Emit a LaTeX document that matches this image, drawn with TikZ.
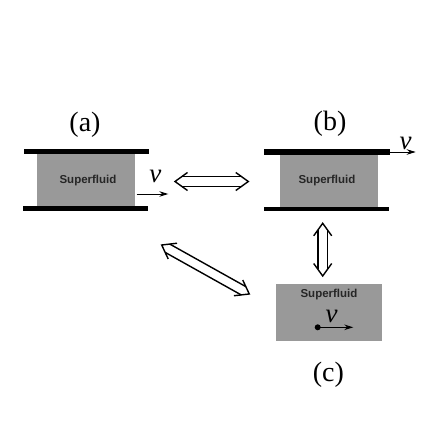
\documentclass[tikz,border=0pt]{standalone}
\usepackage{fontspec}
\setmainfont{Liberation Serif}
\newfontfamily\hv{Liberation Sans}
\usetikzlibrary{arrows.meta,calc}
\definecolor{fluidgray}{RGB}{153,153,153}
\newcommand\eqarr[2]{%
  \path let \p1=($(#2)-(#1)$) in \pgfextra{%
    \pgfmathsetmacro\eqlen{veclen(\x1,\y1)}%
    \pgfmathsetmacro\eqang{atan2(\y1,\x1)}%
    \xdef\eqlen{\eqlen}\xdef\eqang{\eqang}};
  \begin{scope}[shift={(#1)},rotate=\eqang]
    \draw[eqline] (12.5,9) -- (0,0) -- (12.5,-9);
    \draw[eqline] (\eqlen-12.5,9) -- (\eqlen,0) -- (\eqlen-12.5,-9);
    \draw[eqline] (6.6,4.75) -- (\eqlen-6.6,4.75);
    \draw[eqline] (6.6,-4.75) -- (\eqlen-6.6,-4.75);
  \end{scope}}
\begin{document}
\begin{tikzpicture}[x=1pt,y=-1pt,
  plate/.style={fill=black,draw=none},
  fluid/.style={fill=fluidgray,draw=none,inner sep=0pt},
  sftext/.style={font=\hv\bfseries\fontsize{11.5}{12}\selectfont,text=black!85},
  panellabel/.style={font=\fontsize{28}{28}\selectfont,inner sep=0pt},
  vlabel/.style={font=\itshape\fontsize{27}{27}\selectfont,inner sep=0pt},
  varrow/.style={line width=1pt,-{Stealth[length=9pt,width=5.5pt]}},
  eqline/.style={line width=1.4pt,line join=miter,line cap=butt}]
\useasboundingbox (0,0) rectangle (436,436);
% panel (a)
\node[fluid,minimum width=97.7pt,minimum height=52pt] (fa) at (86.2,180) {};
\node[sftext] (ta) at (88,180.5) {Superfluid};
\fill[plate] (24,149) rectangle (149,154.3);
\fill[plate] (23,205.8) rectangle (148,211);
\node[panellabel] (la) at (85,125) {(a)};
\node[vlabel] (va) at (155.3,176) {v};
\coordinate (va1) at (136.7,194);
\coordinate (va2) at (168.3,194);
\draw[varrow] (va1) -- (va2);
% panel (b)
\node[fluid,minimum width=97.7pt,minimum height=52.7pt] (fb) at (328.9,180.3) {};
\node[sftext] (tb) at (327,180.3) {Superfluid};
\fill[plate] (264,149.3) rectangle (390,154.6);
\fill[plate] (264,206.5) rectangle (389.3,211.3);
\node[panellabel] (lb) at (330,124) {(b)};
\node[vlabel] (vb) at (405.5,143) {v};
\coordinate (vb1) at (389,152);
\coordinate (vb2) at (415.7,152);
\draw[varrow] (vb1) -- (vb2);
% panel (c)
\node[fluid,minimum width=106pt,minimum height=56.4pt] (fc) at (328.7,312.5) {};
\node[sftext] (tc) at (329,294.7) {Superfluid};
\node[vlabel] (vc) at (331.7,316) {v};
\coordinate (vc1) at (317.7,327.3);
\coordinate (vc2) at (353.3,327.3);
\fill (vc1) circle (3pt);
\draw[varrow] (vc1) -- (vc2);
\node[panellabel] (lc) at (328.3,375) {(c)};
% equivalence arrows
\coordinate (h1) at (175,181.5);
\coordinate (h2) at (248.3,181.5);
\eqarr{h1}{h2}
\coordinate (u1) at (322.7,223.3);
\coordinate (u2) at (322.7,276);
\eqarr{u1}{u2}
\coordinate (d1) at (161.7,245);
\coordinate (d2) at (249.3,294);
\eqarr{d1}{d2}
\end{tikzpicture}
\end{document}
